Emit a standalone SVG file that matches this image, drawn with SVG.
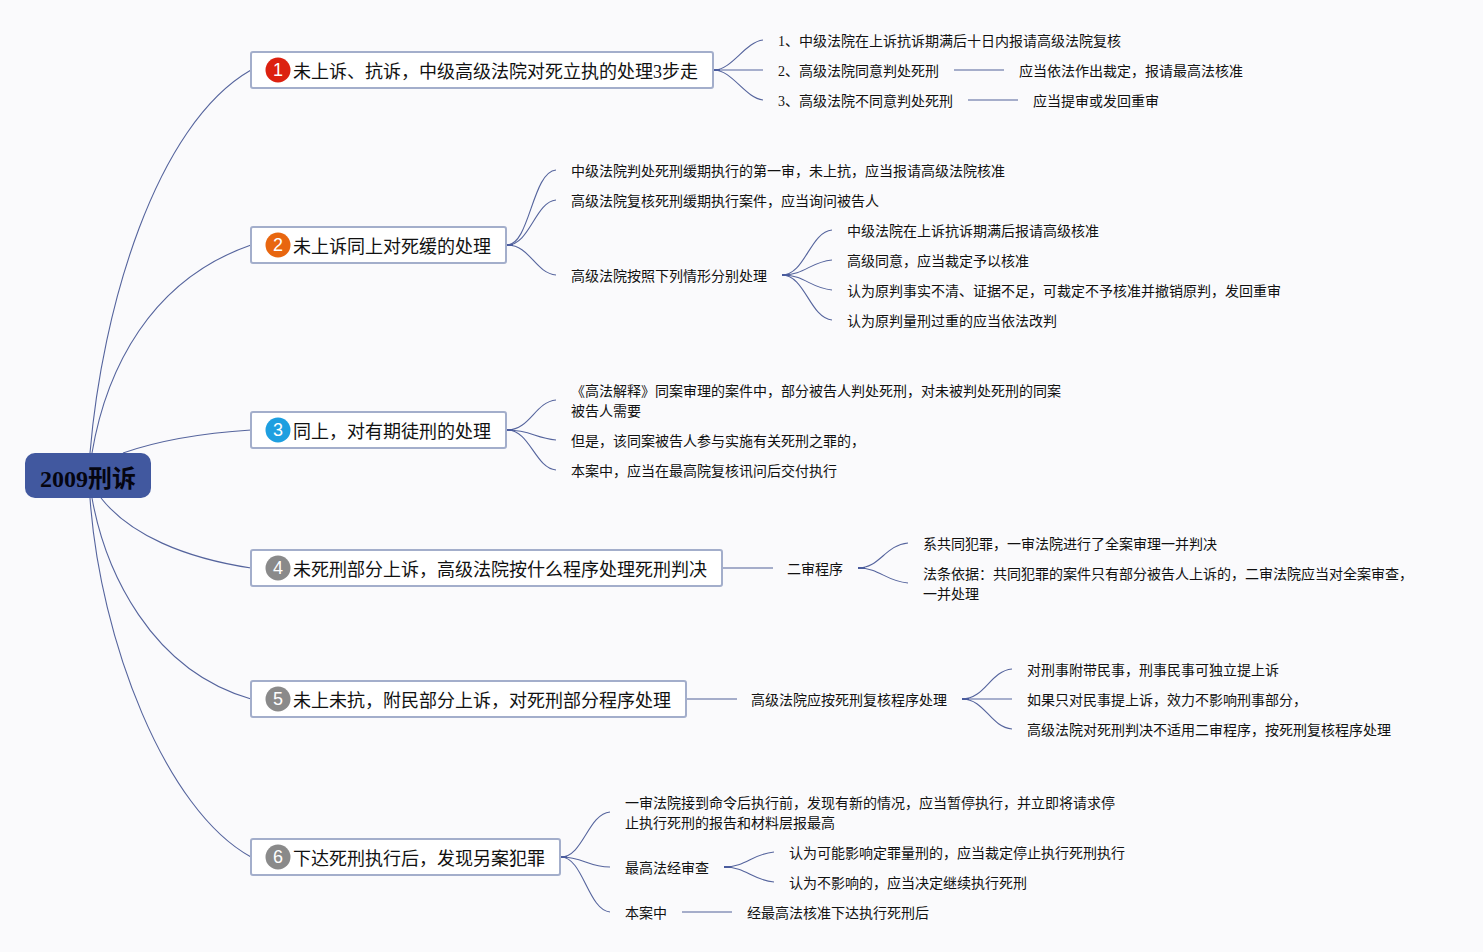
<svg xmlns="http://www.w3.org/2000/svg" width="1483" height="952" viewBox="0 0 1483 952">
<style>
text{font-family:"Liberation Serif","Noto Sans CJK SC",serif;fill:#111}
.l{font-size:14px}
.t{font-size:18px}
.r{font-size:24px;font-weight:700;fill:#050510}
.b{fill:#fff;stroke:#a3aecb;stroke-width:2}
.n{font-family:"Liberation Sans","Noto Sans CJK SC",sans-serif;font-size:18px;fill:#fff;text-anchor:middle}
#connectors path{fill:none;stroke:#55649d;stroke-width:1.1}
#connectors path.s{stroke:#a5adca;stroke-width:2}
#connectors path.h{stroke:#4a5c9e;stroke-width:2}
</style>
<rect width="1483" height="952" fill="#fafafc"/>
<g id="connectors">
<path d="M90 453C102 310 155 125 251 70"/>
<path d="M92 453C106 370 150 280 251 245"/>
<path d="M123 453C160 440 205 433 251 430"/>
<path d="M101 498C130 535 185 558 251 568"/>
<path d="M92 498C105 570 150 670 251 699"/>
<path d="M90 498C100 640 165 810 251 857"/>
<path d="M714 70C732 70 745 42 763 40"/>
<path d="M714 70H763"/>
<path d="M714 70C732 70 745 98 763 100"/>
<path class="s" d="M954 70H1004"/>
<path class="s" d="M968 100H1018"/>
<path d="M507 245C530 245 532 172 556 170"/>
<path d="M507 245C530 245 535 202 556 200"/>
<path d="M507 245C530 245 535 273 556 275"/>
<path d="M782 275C805 275 810 232 832 230"/>
<path d="M782 275C805 275 810 262 832 260"/>
<path d="M782 275C805 275 810 288 832 290"/>
<path d="M782 275C805 275 810 318 832 320"/>
<path d="M507 430C530 430 535 402 556 400"/>
<path d="M507 430C530 430 535 438 556 440"/>
<path d="M507 430C530 430 535 468 556 470"/>
<path class="s" d="M723 568H773"/>
<path d="M858 568C880 568 885 545 908 543"/>
<path d="M858 568C880 568 885 581 908 583"/>
<path class="s" d="M687 699H737"/>
<path d="M962 699C985 699 990 671 1012 669"/>
<path d="M962 699H1012"/>
<path d="M962 699C985 699 990 727 1012 729"/>
<path d="M561 857C583 857 588 814 610 812"/>
<path d="M561 857C583 857 588 867 610 867"/>
<path d="M561 857C583 857 588 910 610 912"/>
<path d="M724 867C746 867 752 854 774 852"/>
<path d="M724 867C746 867 752 880 774 882"/>
<path class="s" d="M682 912H732"/>
<path class="h" d="M714 70h6"/>
<path class="h" d="M507 245h6"/>
<path class="h" d="M782 275h7"/>
<path class="h" d="M507 430h6"/>
<path class="h" d="M858 568h7"/>
<path class="h" d="M962 699h7"/>
<path class="h" d="M561 857h6"/>
<path class="h" d="M724 867h7"/>
</g>
<g id="root"><rect x="25" y="453" width="126" height="45" rx="10" fill="#41589f"/><text class="r" x="40" y="487">2009刑诉</text></g>
<g id="n1"><rect class="b" x="251" y="52" width="462" height="36" rx="2"/><circle cx="278" cy="70" r="12.5" fill="#dc2110"/><text class="n" x="278" y="76">1</text><text class="t" x="293" y="78">未上诉、抗诉，中级高级法院对死立执的处理3步走</text></g>
<g id="n2"><rect class="b" x="251" y="227" width="255" height="36" rx="2"/><circle cx="278" cy="245" r="12.5" fill="#e8660f"/><text class="n" x="278" y="251">2</text><text class="t" x="293" y="253">未上诉同上对死缓的处理</text></g>
<g id="n3"><rect class="b" x="251" y="412" width="255" height="36" rx="2"/><circle cx="278" cy="430" r="12.5" fill="#1e9fe0"/><text class="n" x="278" y="436">3</text><text class="t" x="293" y="438">同上，对有期徒刑的处理</text></g>
<g id="n4"><rect class="b" x="251" y="550" width="471" height="36" rx="2"/><circle cx="278" cy="568" r="12.5" fill="#8a8a8a"/><text class="n" x="278" y="574">4</text><text class="t" x="293" y="576">未死刑部分上诉，高级法院按什么程序处理死刑判决</text></g>
<g id="n5"><rect class="b" x="251" y="681" width="435" height="36" rx="2"/><circle cx="278" cy="699" r="12.5" fill="#8a8a8a"/><text class="n" x="278" y="705">5</text><text class="t" x="293" y="707">未上未抗，附民部分上诉，对死刑部分程序处理</text></g>
<g id="n6"><rect class="b" x="251" y="839" width="309" height="36" rx="2"/><circle cx="278" cy="857" r="12.5" fill="#8a8a8a"/><text class="n" x="278" y="863">6</text><text class="t" x="293" y="865">下达死刑执行后，发现另案犯罪</text></g>
<g id="leaf1-1"><text class="l" x="778" y="46">1、中级法院在上诉抗诉期满后十日内报请高级法院复核</text></g>
<g id="leaf1-2"><text class="l" x="778" y="76">2、高级法院同意判处死刑</text></g>
<g id="leaf1-2a"><text class="l" x="1019" y="76">应当依法作出裁定，报请最高法核准</text></g>
<g id="leaf1-3"><text class="l" x="778" y="106">3、高级法院不同意判处死刑</text></g>
<g id="leaf1-3a"><text class="l" x="1033" y="106">应当提审或发回重审</text></g>
<g id="leaf2-1"><text class="l" x="571" y="176">中级法院判处死刑缓期执行的第一审，未上抗，应当报请高级法院核准</text></g>
<g id="leaf2-2"><text class="l" x="571" y="206">高级法院复核死刑缓期执行案件，应当询问被告人</text></g>
<g id="leaf2-3"><text class="l" x="571" y="281">高级法院按照下列情形分别处理</text></g>
<g id="leaf2-3-1"><text class="l" x="847" y="236">中级法院在上诉抗诉期满后报请高级核准</text></g>
<g id="leaf2-3-2"><text class="l" x="847" y="266">高级同意，应当裁定予以核准</text></g>
<g id="leaf2-3-3"><text class="l" x="847" y="296">认为原判事实不清、证据不足，可裁定不予核准并撤销原判，发回重审</text></g>
<g id="leaf2-3-4"><text class="l" x="847" y="326">认为原判量刑过重的应当依法改判</text></g>
<g id="leaf3-1"><text class="l" x="571" y="396">《高法解释》同案审理的案件中，部分被告人判处死刑，对未被判处死刑的同案</text><text class="l" x="571" y="416">被告人需要</text></g>
<g id="leaf3-2"><text class="l" x="571" y="446">但是，该同案被告人参与实施有关死刑之罪的，</text></g>
<g id="leaf3-3"><text class="l" x="571" y="476">本案中，应当在最高院复核讯问后交付执行</text></g>
<g id="leaf4"><text class="l" x="787" y="574">二审程序</text></g>
<g id="leaf4-1"><text class="l" x="923" y="549">系共同犯罪，一审法院进行了全案审理一并判决</text></g>
<g id="leaf4-2"><text class="l" x="923" y="579">法条依据：共同犯罪的案件只有部分被告人上诉的，二审法院应当对全案审查，</text><text class="l" x="923" y="599">一并处理</text></g>
<g id="leaf5"><text class="l" x="751" y="705">高级法院应按死刑复核程序处理</text></g>
<g id="leaf5-1"><text class="l" x="1027" y="675">对刑事附带民事，刑事民事可独立提上诉</text></g>
<g id="leaf5-2"><text class="l" x="1027" y="705">如果只对民事提上诉，效力不影响刑事部分，</text></g>
<g id="leaf5-3"><text class="l" x="1027" y="735">高级法院对死刑判决不适用二审程序，按死刑复核程序处理</text></g>
<g id="leaf6-1"><text class="l" x="625" y="808">一审法院接到命令后执行前，发现有新的情况，应当暂停执行，并立即将请求停</text><text class="l" x="625" y="828">止执行死刑的报告和材料层报最高</text></g>
<g id="leaf6-2"><text class="l" x="625" y="873">最高法经审查</text></g>
<g id="leaf6-2-1"><text class="l" x="789" y="858">认为可能影响定罪量刑的，应当裁定停止执行死刑执行</text></g>
<g id="leaf6-2-2"><text class="l" x="789" y="888">认为不影响的，应当决定继续执行死刑</text></g>
<g id="leaf6-3"><text class="l" x="625" y="918">本案中</text></g>
<g id="leaf6-3a"><text class="l" x="747" y="918">经最高法核准下达执行死刑后</text></g>
</svg>
